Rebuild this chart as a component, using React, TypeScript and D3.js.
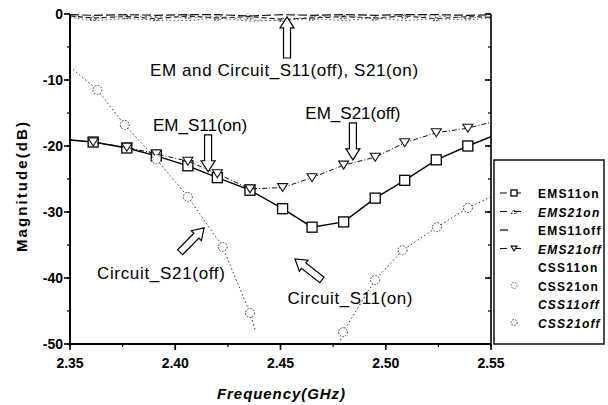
import * as d3 from "d3";

// marker grid shared by the EM sweeps (GHz)
const emFreq = [2.35, 2.361, 2.377, 2.391, 2.406, 2.42, 2.4355, 2.451, 2.465, 2.48, 2.495, 2.509, 2.524, 2.539, 2.55];

const emS11on = [-19.1, -19.4, -20.3, -21.5, -23.0, -24.8, -26.7, -29.5, -32.3, -31.5, -27.9, -25.2, -22.1, -20.0, -18.6];
const emS21off = [-19.1, -19.4, -20.2, -21.2, -22.3, -24.2, -26.5, -26.3, -24.8, -22.9, -21.7, -19.5, -18.0, -17.3, -16.4];
const emS21on = [-0.3, -0.6, -0.4, -0.7, -0.3, -0.6, -0.4, -0.8, -0.6, -0.4, -0.6, -0.3, -0.7, -0.4, -0.5];
const emS11off = [-0.1, -0.2, -0.1, -0.2, -0.1, -0.1, -0.3, -0.1, -0.2, -0.1, -0.2, -0.1, -0.1, -0.2, -0.1];
const csS11off = [-0.3, -0.7, -0.3, -0.4, -0.6, -0.3, -0.9, -1.0, -0.4, -0.3, -0.7, -0.3, -0.3, -0.6, -0.4];
const csS21on = [-0.5, -1.0, -0.7, -0.9, -1.0, -0.6, -1.1, -0.9, -0.7, -1.0, -0.6, -1.0, -0.7, -0.9, -0.6];

const csS21offFreq = [2.35, 2.363, 2.376, 2.391, 2.406, 2.4225, 2.4355, 2.438];
const csS21off = [-8.0, -11.5, -16.8, -22.0, -27.7, -35.3, -45.3, -47.9];

const csS11onFreq = [2.4785, 2.4797, 2.4949, 2.508, 2.5243, 2.539, 2.55];
const csS11on = [-49.4, -48.2, -40.3, -35.8, -32.3, -29.4, -27.7];

const xTicks = [2.35, 2.4, 2.45, 2.5, 2.55];
const yTicks = [0, -10, -20, -30, -40, -50];

const legendNames = ["EMS11on", "EMS21on", "EMS11off", "EMS21off", "CSS11on", "CSS21on", "CSS11off", "CSS21off"];

type Marker = "square" | "triUp" | "triDown" | "circle" | "none";
interface Series {
  name: string;
  freq: number[];
  values: number[];
  dash: string;
  width: number;
  color: string;
  marker: Marker;
  legend: "line" | "short" | "none";
  legendMarker: Marker;
}

const series: Series[] = [
  { name: "EMS11on", freq: emFreq, values: emS11on, dash: "", width: 1.4, color: "#000", marker: "square", legend: "line", legendMarker: "square" },
  { name: "EMS21on", freq: emFreq, values: emS21on, dash: "5,3", width: 1.1, color: "#111", marker: "triUp", legend: "line", legendMarker: "triUp" },
  { name: "EMS11off", freq: emFreq, values: emS11off, dash: "9,3", width: 1.2, color: "#111", marker: "none", legend: "short", legendMarker: "none" },
  { name: "EMS21off", freq: emFreq, values: emS21off, dash: "5,2,1,2", width: 1.0, color: "#111", marker: "triDown", legend: "line", legendMarker: "triDown" },
  { name: "CSS11on", freq: csS11onFreq, values: csS11on, dash: "1.5,2.5", width: 1.0, color: "#333", marker: "circle", legend: "none", legendMarker: "none" },
  { name: "CSS21on", freq: emFreq, values: csS21on, dash: "1.5,2.5", width: 1.0, color: "#555", marker: "none", legend: "none", legendMarker: "circle" },
  { name: "CSS11off", freq: emFreq, values: csS11off, dash: "2,3", width: 0.9, color: "#666", marker: "none", legend: "none", legendMarker: "none" },
  { name: "CSS21off", freq: csS21offFreq, values: csS21off, dash: "1.5,2.5", width: 1.0, color: "#333", marker: "circle", legend: "none", legendMarker: "circle" },
];

function markerShape(m: Marker, cx: number, cy: number, s: number, color: string, key: string) {
  if (m === "square")
    return <rect key={key} x={cx - s / 2} y={cy - s / 2} width={s} height={s} fill="#fff" stroke={color} strokeWidth={1.3} />;
  if (m === "triDown") {
    const h = s * 0.8;
    return <path key={key} d={`M${cx - s / 2},${cy - h / 2}L${cx + s / 2},${cy - h / 2}L${cx},${cy + h / 2}Z`} fill="#fff" stroke={color} strokeWidth={1.1} />;
  }
  if (m === "triUp") {
    const h = s * 0.7;
    return <path key={key} d={`M${cx - s / 2},${cy + h / 2}L${cx + s / 2},${cy + h / 2}L${cx},${cy - h / 2}Z`} fill="none" stroke={color} strokeWidth={0.9} strokeDasharray="1.5,1.5" />;
  }
  if (m === "circle")
    return <circle key={key} cx={cx} cy={cy} r={s / 2} fill="#fff" stroke={color} strokeWidth={1} strokeDasharray="1.5,1.5" />;
  return null;
}

function hollowArrow(x1: number, y1: number, x2: number, y2: number) {
  const dx = x2 - x1, dy = y2 - y1;
  const len = Math.hypot(dx, dy);
  const ux = dx / len, uy = dy / len;
  const nx = -uy, ny = ux;
  const sw = 3.5, hw = 7, hl = 11;
  const bx = x2 - ux * hl, by = y2 - uy * hl;
  const pts = [
    [x1 + nx * sw, y1 + ny * sw],
    [bx + nx * sw, by + ny * sw],
    [bx + nx * hw, by + ny * hw],
    [x2, y2],
    [bx - nx * hw, by - ny * hw],
    [bx - nx * sw, by - ny * sw],
    [x1 - nx * sw, y1 - ny * sw],
  ];
  return "M" + pts.map((p) => p.join(",")).join("L") + "Z";
}

export default function App() {
  const width = 608;
  const height = 405;
  const x = d3.scaleLinear().domain([2.35, 2.55]).range([70, 491]);
  const y = d3.scaleLinear().domain([0, -50]).range([14, 344]);
  const [x0, x1] = x.range();
  const [y0, y1] = y.range();

  const font = "'Liberation Sans', Arial, sans-serif";

  const minorX = d3.range(2.35, 2.5501, 0.025);
  const minorY = d3.range(0, -50.01, -5);

  // annotations in data coordinates
  const notes = [
    { text: "EM and Circuit_S11(off), S21(on)", f: 2.4517, db: -9.4, len: 268 },
    { text: "EM_S11(on)", f: 2.4118, db: -17.7, len: 0 },
    { text: "EM_S21(off)", f: 2.4844, db: -15.9, len: 0 },
    { text: "Circuit_S21(off)", f: 2.3932, db: -40.2, len: 128 },
    { text: "Circuit_S11(on)", f: 2.483, db: -43.9, len: 125 },
  ];
  const arrows = [
    [2.4531, -6.67, 2.4531, -0.45],
    [2.4156, -18.3, 2.4156, -23.9],
    [2.4844, -16.5, 2.4844, -22.1],
    [2.4023, -36.1, 2.4137, -32.4],
    [2.4697, -40.3, 2.4569, -37.1],
  ];

  const line = d3
    .line<[number, number]>()
    .x((d) => x(d[0]))
    .y((d) => y(d[1]));

  const legX = 494, legY = 160, legW = 110, legH = 184;

  return (
    <svg width={width} height={height} style={{ position: "fixed", left: 0, top: 0, background: "#fff" }} fontFamily={font}>
      <defs>
        <clipPath id="plot">
          <rect x={x0} y={y0 - 4} width={x1 - x0} height={y1 - y0 + 4} />
        </clipPath>
      </defs>

      {/* curves */}
      <g clipPath="url(#plot)">
        {series.map((s) => {
          const pts = s.freq.map((f, i) => [f, s.values[i]] as [number, number]);
          return (
            <g key={s.name}>
              <path d={line(pts) ?? ""} fill="none" stroke={s.color} strokeWidth={s.width} strokeDasharray={s.dash} />
              {pts.slice(1, -1).map((p, i) =>
                markerShape(s.marker, x(p[0]), y(p[1]), s.marker === "circle" ? 9 : s.marker === "triUp" ? 6 : 10, s.color, `${s.name}-${i}`)
              )}
            </g>
          );
        })}
      </g>

      {/* frame */}
      <line x1={x0} x2={x0} y1={y0} y2={y1} stroke="#000" strokeWidth={2} />
      <line x1={x0} x2={x1} y1={y1} y2={y1} stroke="#000" strokeWidth={2} />
      <line x1={x1} x2={x1} y1={y0} y2={y1} stroke="#000" strokeWidth={1.6} />

      {/* minor ticks */}
      {minorX.map((t, i) => (
        <line key={"mx" + i} x1={x(t)} x2={x(t)} y1={y1} y2={y1 + 3} stroke="#000" strokeWidth={1.2} />
      ))}
      {minorY.map((t, i) => (
        <g key={"my" + i}>
          <line x1={x0 - 3} x2={x0} y1={y(t)} y2={y(t)} stroke="#000" strokeWidth={1.2} />
          <line x1={x1 - 3} x2={x1} y1={y(t)} y2={y(t)} stroke="#000" strokeWidth={1.2} />
        </g>
      ))}

      {/* major ticks and labels */}
      {xTicks.map((t) => (
        <g key={"xt" + t}>
          <line x1={x(t)} x2={x(t)} y1={y1} y2={y1 + 6} stroke="#000" strokeWidth={1.6} />
          <text x={x(t)} y={y1 + 24} textAnchor="middle" fontSize={14} fontWeight="bold" fill="#000">
            {t.toFixed(2)}
          </text>
        </g>
      ))}
      {yTicks.map((t) => (
        <g key={"yt" + t}>
          <line x1={x0 - 6} x2={x0} y1={y(t)} y2={y(t)} stroke="#000" strokeWidth={1.6} />
          <line x1={x1 - 6} x2={x1} y1={y(t)} y2={y(t)} stroke="#000" strokeWidth={1.6} />
          <text x={x0 - 7} y={y(t) + 5} textAnchor="end" fontSize={14} fontWeight="bold" fill="#000">
            {t}
          </text>
        </g>
      ))}

      {/* axis titles */}
      <text x={281} y={399} textAnchor="middle" fontSize={15} fontWeight="bold" fontStyle="italic" fill="#000" textLength={128}>
        Frequency(GHz)
      </text>
      <text
        transform={`translate(27,${(y0 + y1) / 2 + 8}) rotate(-90)`}
        textAnchor="middle"
        fontSize={15}
        fontWeight="bold"
        fill="#000"
        textLength={130}
      >
        Magnitude(dB)
      </text>

      {/* annotations */}
      {arrows.map((a, i) => (
        <path key={"ar" + i} d={hollowArrow(x(a[0]), y(a[1]), x(a[2]), y(a[3]))} fill="#fff" stroke="#000" strokeWidth={1.2} />
      ))}
      {notes.map((n) => (
        <text
          key={n.text}
          x={x(n.f)}
          y={y(n.db)}
          textAnchor="middle"
          fontSize={17}
          fill="#000"
          textLength={n.len || undefined}
          lengthAdjust={n.len ? "spacing" : undefined}
        >
          {n.text}
        </text>
      ))}

      {/* legend */}
      <rect x={legX} y={legY} width={legW} height={legH} fill="#fff" stroke="#000" strokeWidth={1.4} />
      {legendNames.map((name, i) => {
        const s = series.find((d) => d.name === name)!;
        const ly = legY + 33 + i * 18.5;
        const italic = /21|off/.test(name) && name !== "EMS11off" && name !== "CSS21on";
        return (
          <g key={"lg" + name}>
            {s.legend === "short" && <line x1={legX + 6} x2={legX + 14} y1={ly} y2={ly} stroke="#000" strokeWidth={1.2} />}
            {s.legend === "line" && (
              <line x1={legX + 6} x2={legX + 34} y1={ly} y2={ly} stroke={s.color} strokeWidth={1} strokeDasharray="7,7" />
            )}
            {markerShape(s.legendMarker, legX + 20, ly, 6, s.color, "lm" + name)}
            <text
              x={legX + 44}
              y={ly + 5}
              fontSize={12}
              fontWeight="bold"
              fontStyle={italic ? "italic" : "normal"}
              letterSpacing={1.2}
              fill="#000"
            >
              {name}
            </text>
          </g>
        );
      })}
    </svg>
  );
}
